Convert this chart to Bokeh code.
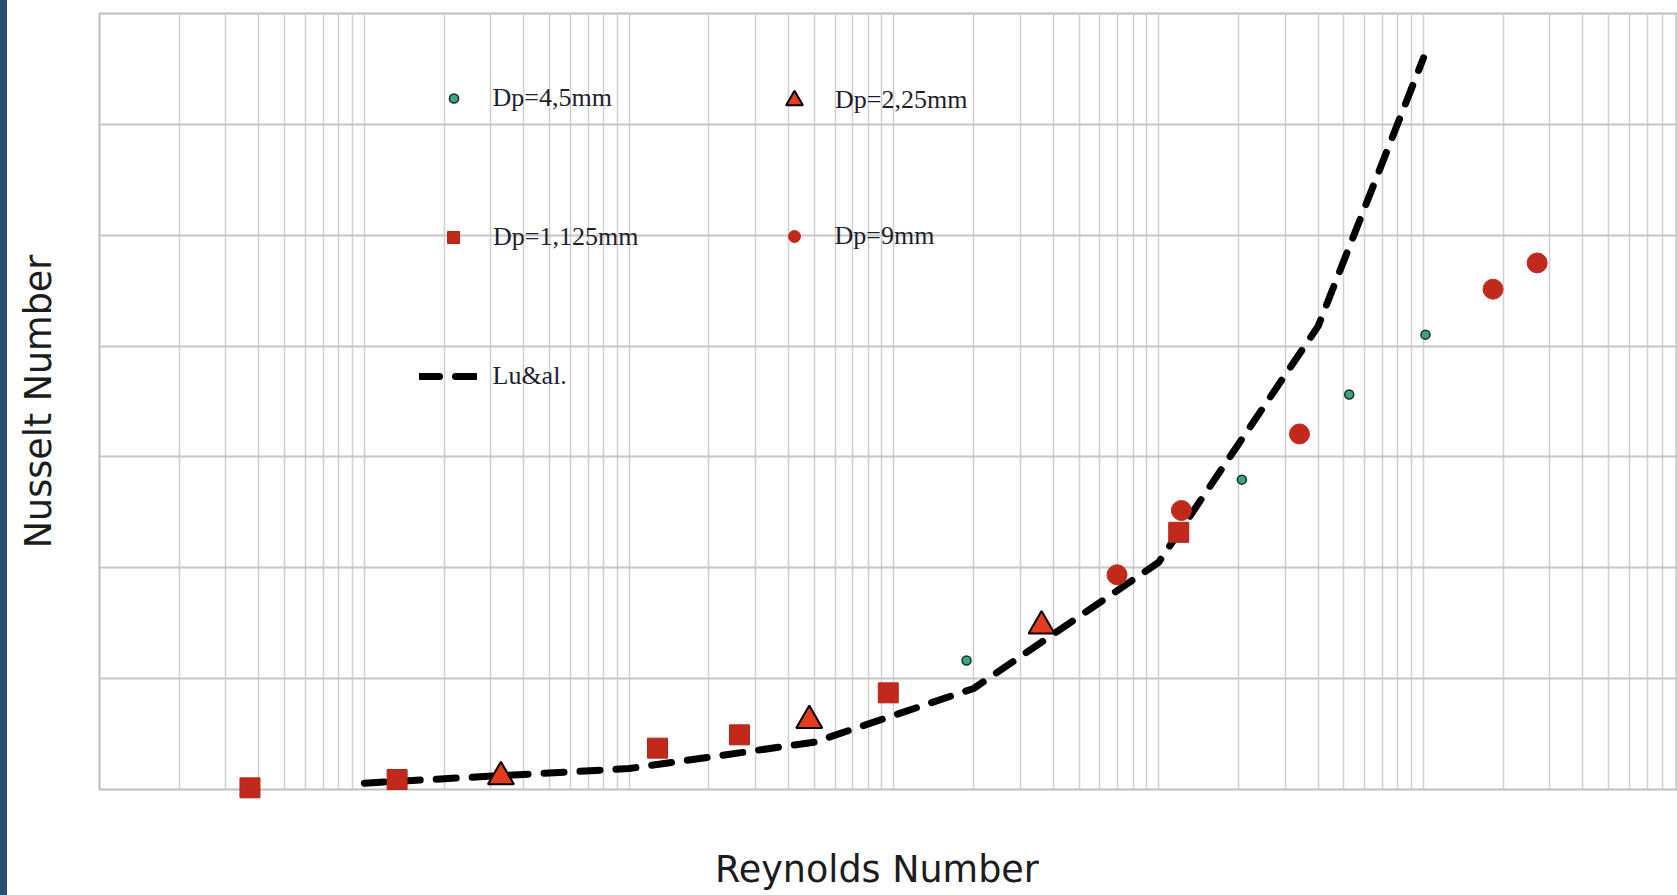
from bokeh.embed import file_html
from bokeh.layouts import row
from bokeh.models import Div, FixedTicker, Legend, LegendItem, Range1d
from bokeh.plotting import figure
from bokeh.resources import INLINE

# Measured Nusselt numbers vs Reynolds number, one series per particle diameter
re_dp1125 = [3.7, 13.3, 128, 261, 952, 11900]
nu_dp1125 = [0.15, 0.9, 3.73, 4.93, 8.72, 23.2]

re_dp225 = [32.8, 479, 3610]
nu_dp225 = [1.15, 6.22, 14.75]

re_dp45 = [1880, 20600, 52400, 101700]
nu_dp45 = [11.64, 27.95, 35.63, 41.03]

re_dp9 = [6960, 12180, 34000, 183000, 268600]
nu_dp9 = [19.37, 25.17, 32.07, 45.13, 47.5]

# Lu & al. correlation
re_lu = [10, 100, 500, 2000, 10000, 40000, 100000]
nu_lu = [0.57, 1.89, 4.27, 9.11, 20.5, 41.8, 66.0]

# grid positions: every 1..9 x 10^k on the log axis, every 10 on Nu
x_grid = [m * 10 ** k for k in range(0, 6) for m in range(1, 10)]
y_grid = [0, 10, 20, 30, 40, 50, 60, 70]

STRIP_W = 7
FIG_W, FIG_H = 1670, 895
LEFT, TOP, BOTTOM = 92, 13, 106
FRAME_BOTTOM = FIG_H - BOTTOM

p = figure(
    width=FIG_W, height=FIG_H,
    x_axis_type="log",
    x_range=Range1d(1, 10 ** 5.959), y_range=Range1d(0, 70),
    output_backend="svg", toolbar_location=None,
    min_border_left=LEFT, min_border_right=0,
    min_border_top=TOP, min_border_bottom=BOTTOM,
    background_fill_color="white", border_fill_color="white",
)

# axes carry only their titles: no line, no ticks, no tick labels
for ax in (p.xaxis[0], p.yaxis[0]):
    ax.ticker = FixedTicker(ticks=[])
    ax.axis_line_color = None
    ax.major_tick_out = 0
    ax.major_tick_in = 0
    ax.minor_tick_out = 0
    ax.minor_tick_in = 0
    ax.major_label_standoff = 0
    ax.axis_label_text_font = "DejaVu Sans"
    ax.axis_label_text_font_size = "36.5px"
    ax.axis_label_text_font_style = "normal"
    ax.axis_label_text_color = "#1c1c1c"

p.yaxis.axis_label = "Nusselt Number"
p.yaxis.axis_label_standoff = 40
# trailing no-break spaces nudge the centred title a little to the left
p.xaxis.axis_label = "Reynolds Number\u00a0\u00a0"
p.xaxis.axis_label_standoff = 58

p.xgrid.ticker = FixedTicker(ticks=x_grid)
p.ygrid.ticker = FixedTicker(ticks=y_grid)
p.xgrid.grid_line_color = "#cfcfcf"
p.xgrid.grid_line_width = 1.5
p.ygrid.grid_line_color = "#c6c6c6"
p.ygrid.grid_line_width = 2
p.outline_line_color = "#bdbdbd"
p.outline_line_width = 2

lu = p.line(re_lu, nu_lu, line_color="black", line_width=7,
            line_dash="20 16", line_cap="round")

# markers sit above the frame clip so the lowest square is drawn whole
r1125 = p.scatter(re_dp1125, nu_dp1125, marker="square", size=20,
                  fill_color="#c1291d", line_color="#b3251a", line_width=1,
                  level="overlay")
r225 = p.scatter(re_dp225, nu_dp225, marker="triangle", size=26,
                 fill_color="#e53b1f", line_color="black", line_width=2,
                 level="overlay")
r45 = p.scatter(re_dp45, nu_dp45, marker="circle", size=9,
                fill_color="#38a385", line_color="#1b2a24", line_width=1.5,
                level="overlay")
r9 = p.scatter(re_dp9, nu_dp9, marker="circle", size=20,
               fill_color="#c1291d", line_color="#c1291d",
               level="overlay")


def add_key(label, renderer, glyph_w, cx, cy, text_x, h=44):
    """One free-standing legend entry, centred on (cx, cy) in canvas pixels."""
    x0 = cx - glyph_w / 2
    leg = Legend(
        items=[LegendItem(label=label, renderers=[renderer])],
        location=(x0 - LEFT, FRAME_BOTTOM - cy - h / 2),
        padding=0, margin=0, spacing=0,
        glyph_width=glyph_w, glyph_height=h, label_height=h,
        label_standoff=int(round(text_x - (x0 + glyph_w))),
        label_text_font="Liberation Serif", label_text_font_size="26px",
        label_text_color="#1e1e30",
        border_line_color=None, background_fill_alpha=0,
    )
    p.add_layout(leg)


add_key("Dp=4,5mm", r45, 23, 446, 97.5, 486)
add_key("Dp=2,25mm", r225, 42, 787, 99.5, 828)
add_key("Dp=1,125mm", r1125, 30, 446, 237, 486)
add_key("Dp=9mm", r9, 30, 786.5, 235.7, 828)
add_key("Lu&al.", lu, 58, 440.5, 376, 486)

strip = Div(width=STRIP_W, height=FIG_H, margin=0,
            styles={"background-color": "#2e4b70"})
page = row(strip, p, spacing=0)

open("out.html", "w").write(file_html(page, INLINE))
